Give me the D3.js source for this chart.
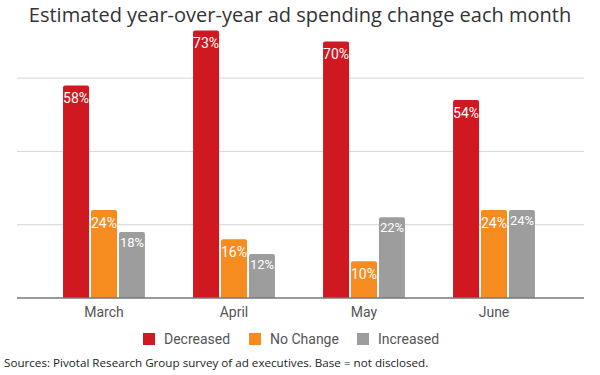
<!DOCTYPE html>
<html lang="en">
<head>
    <meta charset="UTF-8">
    <title>Estimated year-over-year ad spending change each month</title>
    <script src="https://d3js.org/d3.v7.min.js"></script>
    <style>
        body { margin: 0; background: #fff; }
        .chart-title { font-family: "Open Sans", sans-serif; font-size: 20px; fill: #333; }
        .month-label { font-family: Roboto, sans-serif; font-size: 14px; fill: #555; }
        .legend-label { font-family: Roboto, sans-serif; font-size: 14px; fill: #555; }
        .bar-label { font-family: Roboto, sans-serif; font-size: 14px; fill: #fff; text-anchor: middle; }
        .source { font-family: "Open Sans", sans-serif; font-size: 11.65px; fill: #222; }
    </style>
</head>
<body>
    <svg width="600" height="375"></svg>
    <script>
        const months = ["March", "April", "May", "June"];
        const seriesNames = ["Decreased", "No Change", "Increased"];
        const decreased = [58, 73, 70, 54];
        const noChange = [24, 16, 10, 24];
        const increased = [18, 12, 22, 24];
        const gridTicks = [20, 40, 60];
        const colors = ["#cf1820", "#f68b1f", "#9d9d9d"];

        const seriesValues = [decreased, noChange, increased];
        const data = months.map((m, i) => ({
            month: m,
            values: seriesNames.map((s, j) => ({ series: s, idx: j, value: seriesValues[j][i] }))
        }));

        const svg = d3.select("svg");
        const baseline = 298;

        const x0 = d3.scaleBand()
            .domain(months)
            .range([39, 559])
            .paddingInner(0.37)
            .paddingOuter(0.185);

        const x1 = d3.scaleBand()
            .domain(seriesNames)
            .range([0, x0.bandwidth()])
            .paddingInner(0.07);

        const y = d3.scaleLinear()
            .domain([0, 20])
            .range([baseline, baseline - 73.3]);

        // gridlines
        svg.append("g")
            .selectAll("line")
            .data(gridTicks)
            .enter()
            .append("line")
            .attr("x1", 17)
            .attr("x2", 584)
            .attr("y1", d => y(d))
            .attr("y2", d => y(d))
            .attr("stroke", "#d6d6d6")
            .attr("stroke-width", 1);

        function topRounded(x, yTop, w, h, r) {
            return `M${x},${yTop + h}V${yTop + r}Q${x},${yTop} ${x + r},${yTop}H${x + w - r}Q${x + w},${yTop} ${x + w},${yTop + r}V${yTop + h}Z`;
        }

        const groups = svg.selectAll(".group")
            .data(data)
            .enter()
            .append("g")
            .attr("class", "group")
            .attr("transform", d => `translate(${x0(d.month)},0)`);

        groups.selectAll("path")
            .data(d => d.values)
            .enter()
            .append("path")
            .attr("d", d => topRounded(x1(d.series), y(d.value), x1.bandwidth(), baseline - y(d.value), 2))
            .attr("fill", d => colors[d.idx]);

        groups.selectAll(".bar-label")
            .data(d => d.values)
            .enter()
            .append("text")
            .attr("class", "bar-label")
            .attr("x", d => x1(d.series) + x1.bandwidth() / 2)
            .attr("y", d => y(d.value) + (d.idx === 2 ? 14.5 : 17.5))
            .style("font-size", d => d.idx === 2 ? "13px" : "14px")
            .text(d => d.value + "%");

        // baseline axis
        svg.append("line")
            .attr("x1", 17)
            .attr("x2", 584)
            .attr("y1", baseline)
            .attr("y2", baseline)
            .attr("stroke", "#777")
            .attr("stroke-width", 1.5);

        svg.selectAll(".month-label")
            .data(months)
            .enter()
            .append("text")
            .attr("class", "month-label")
            .attr("x", d => x0(d) + x0.bandwidth() / 2)
            .attr("y", 317)
            .attr("text-anchor", "middle")
            .text(d => d);

        // legend
        const legendX = [143, 249, 357];
        const legend = svg.selectAll(".legend")
            .data(seriesNames)
            .enter()
            .append("g")
            .attr("class", "legend")
            .attr("transform", (d, i) => `translate(${legendX[i]},333)`);

        legend.append("rect")
            .attr("width", 12)
            .attr("height", 12)
            .attr("fill", (d, i) => colors[i]);

        legend.append("text")
            .attr("class", "legend-label")
            .attr("x", 21)
            .attr("y", 11)
            .text(d => d);

        svg.append("text")
            .attr("class", "chart-title")
            .attr("x", 300)
            .attr("y", 22)
            .attr("text-anchor", "middle")
            .text("Estimated year-over-year ad spending change each month");

        svg.append("text")
            .attr("class", "source")
            .attr("x", 4)
            .attr("y", 367)
            .text("Sources: Pivotal Research Group survey of ad executives. Base = not disclosed.");
    </script>
</body>
</html>
